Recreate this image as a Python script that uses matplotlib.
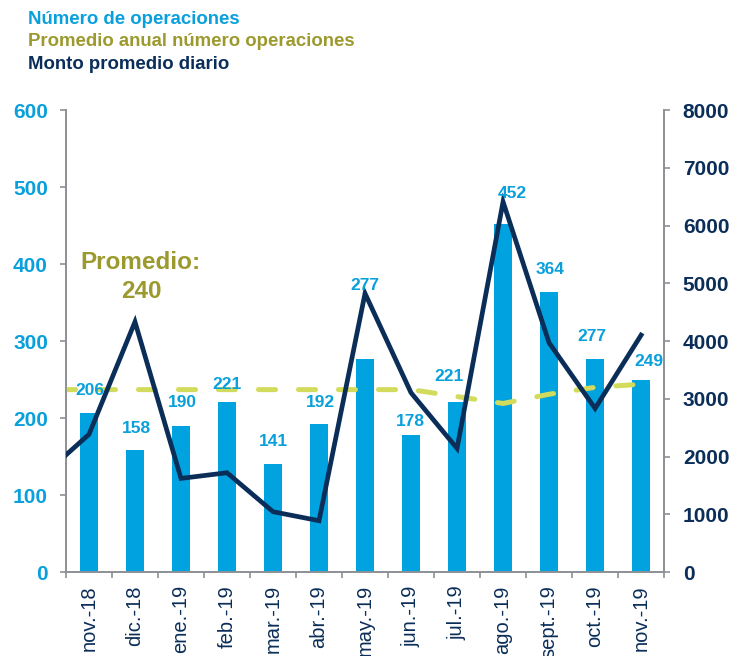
import numpy as np
import matplotlib
matplotlib.use("Agg")
import matplotlib.pyplot as plt

plt.rcParams['font.family'] = ['Liberation Sans', 'DejaVu Sans']

months = ["nov.-18", "dic.-18", "ene.-19", "feb.-19", "mar.-19", "abr.-19", "may.-19",
          "jun.-19", "jul.-19", "ago.-19", "sept.-19", "oct.-19", "nov.-19"]
operaciones = [206, 158, 190, 221, 141, 192, 277, 178, 221, 452, 364, 277, 249]
# previous month (oct.-18) is included so the lines enter from the left edge
promedio_anual = [237, 237, 237, 237, 237, 237, 237, 237, 237, 228, 219, 231, 240, 244]
monto_diario = [1670, 2385, 4334, 1622, 1720, 1045, 889, 4826, 3105, 2141, 6413, 3971, 2834, 4104]

# label nudges in pixels (dx, dy from bar top), placed by hand to dodge the line
label_nudge = [(1, 23), (1, 22), (1, 23), (0, 17), (0, 22), (1, 22), (0, 73),
               (-1, 14), (-8, 25), (9, 31), (1, 22), (-3, 22), (8, 19)]

c_bar = '#00A3E0'
c_lbl = '#0AA0DC'
c_avg = '#D3DB5C'
c_avg_txt = '#9C9A2E'
c_navy = '#0B2E59'
c_axis = '#8C9096'

fig = plt.figure(figsize=(7.33, 6.56), dpi=100)
ax = fig.add_axes([0.090, 0.128, 0.816, 0.704])
ax2 = ax.twinx()

x = np.arange(len(months))
x_ext = np.arange(-1, len(months))

ax.bar(x, operaciones, width=0.4, color=c_bar, zorder=2)
ax.plot(x_ext, promedio_anual, color=c_avg, lw=3.6, linestyle=(4.9, (3.4, 4.6)),
        dash_capstyle='round', zorder=3)
ax2.plot(x_ext, monto_diario, color=c_navy, lw=3.4, solid_joinstyle='miter', zorder=4)

for xi, v, (dx, dy) in zip(x, operaciones, label_nudge):
    ax2.annotate(str(v), (xi, v), xycoords=ax.transData, xytext=(dx, dy),
                 textcoords='offset pixels', ha='center', va='center',
                 color=c_lbl, fontsize=12.5, fontweight='bold', zorder=5)

ax.set_xlim(-0.5, len(months) - 0.5)
ax.set_ylim(0, 600)
ax2.set_ylim(0, 8000)
ax.set_yticks(range(0, 601, 100))
ax2.set_yticks(range(0, 8001, 1000))

ax.set_xticks(x)
ax.set_xticklabels(months, rotation=90, fontsize=14.5, color=c_navy)
ax.set_xticks(np.arange(-0.5, len(months)), minor=True)
ax.tick_params(axis='x', which='major', length=0, pad=9.5)
ax.tick_params(axis='x', which='minor', length=4.5, width=1.2, color=c_axis)
ax.tick_params(axis='y', length=4.5, width=1.2, color=c_axis, labelsize=15,
               labelcolor=c_lbl, pad=8.5)
ax2.tick_params(axis='y', length=4.5, width=1.2, color=c_axis, labelsize=15,
                labelcolor=c_navy, pad=9)
for lab in ax.get_yticklabels() + ax2.get_yticklabels():
    lab.set_fontweight('bold')

for a in (ax, ax2):
    a.spines['top'].set_visible(False)
    for s in ('left', 'right', 'bottom'):
        a.spines[s].set_color(c_axis)
        a.spines[s].set_linewidth(1.2)
ax.patch.set_visible(False)
ax2.patch.set_visible(False)
ax.set_zorder(1)
ax2.set_zorder(2)

ax.text(1.13, 402, "Promedio:", ha='center', va='center', color=c_avg_txt,
        fontsize=17.5, fontweight='bold')
ax.text(1.13, 365, "240", ha='center', va='center', color=c_avg_txt,
        fontsize=17.5, fontweight='bold')

fig.text(0.038, 0.970, "Número de operaciones", color=c_lbl, fontsize=13.4,
         fontweight='bold', va='center')
fig.text(0.038, 0.936, "Promedio anual número operaciones", color=c_avg_txt,
         fontsize=13.4, fontweight='bold', va='center')
fig.text(0.038, 0.902, "Monto promedio diario", color=c_navy, fontsize=13.4,
         fontweight='bold', va='center')

fig.savefig("out.png", dpi=100)
